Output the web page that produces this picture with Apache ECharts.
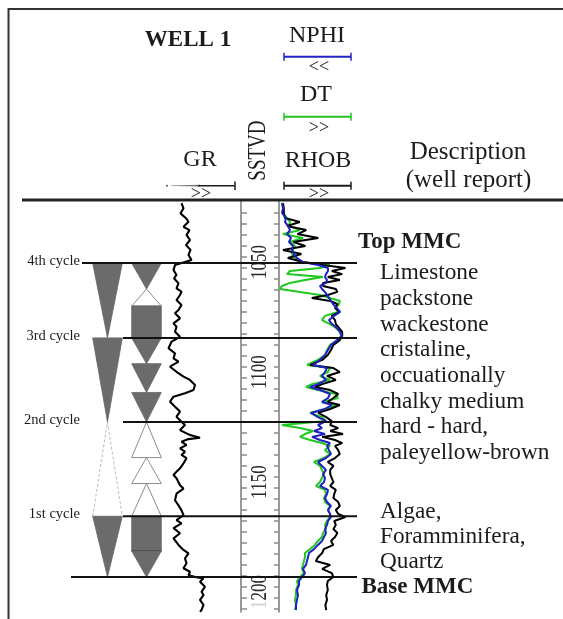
<!DOCTYPE html>
<html><head><meta charset="utf-8">
<script src="https://cdn.jsdelivr.net/npm/echarts@6/dist/echarts.min.js"></script>
<style>html,body{margin:0;padding:0;background:#fff;}#c{width:563px;height:619px;}</style>
</head><body><div id="c"></div>
<script>
// ---------------- DATA ----------------
const grDepth = [
 1023.3,1025.6,1027.9,1030.1,1031.7,1034.0,1035.5,1037.7,1040.0,1042.3,
 1044.5,1046.8,1049.1,1049.9,1051.4,1053.6,1055.9,1057.4,1059.7,1062.0,
 1063.5,1065.0,1067.3,1069.5,1071.8,1073.3,1075.6,1077.9,1079.4,1081.7,
 1084.0,1084.7,1086.2,1089.2,1091.5,1093.8,1095.3,1097.6,1099.9,1102.1,
 1103.6,1105.9,1108.2,1109.7,1111.2,1113.5,1115.8,1118.0,1120.3,1122.6,
 1123.3,1124.1,1126.4,1127.9,1128.6,1129.9,1130.5,1131.7,1133.2,1134.7,
 1136.2,1137.7,1139.2,1141.5,1143.8,1145.3,1146.8,1148.3,1151.5,1153.0,
 1155.3,1158.3,1160.6,1162.9,1165.1,1165.8,1167.3,1168.8,1171.0,1173.3,
 1175.6,1178.6,1180.9,1182.4,1184.7,1186.9,1189.2,1190.8,1192.3,1193.0,
 1193.8,1195.3,1197.6,1199.9,1201.4,1203.6,1205.9,1208.2,1209.0];
const grValue = [
 63,67,61,72,77,67,79,73,80,72,
 81,77,83,83,50,47,53,48,57,53,
 63,60,53,63,57,50,60,47,53,50,
 60,63,43,37,50,47,57,40,53,67,
 80,90,87,70,47,40,50,60,53,63,
 67,70,60,73,80,100,77,63,73,60,
 70,63,73,67,60,53,47,53,60,67,
 53,50,57,63,67,70,53,63,47,60,
 47,57,67,77,70,73,67,80,77,87,
 107,100,110,103,107,100,107,103,100];

const logDepth = [
 1023.2,1025.5,1027.7,1030.0,1031.8,1033.6,1035.5,1037.3,1039.1,1040.9,
 1042.7,1044.5,1046.4,1048.2,1050.0,1051.4,1052.7,1054.1,1055.5,1056.8,
 1058.2,1059.5,1060.9,1062.3,1063.6,1065.0,1066.4,1067.7,1069.1,1070.9,
 1072.7,1074.5,1076.4,1078.2,1080.0,1081.8,1083.6,1085.5,1087.7,1090.0,
 1092.3,1094.5,1096.8,1098.2,1100.0,1101.8,1103.6,1105.5,1106.8,1108.2,
 1110.0,1111.8,1113.6,1115.0,1116.8,1118.6,1120.5,1122.3,1124.1,1125.5,
 1126.8,1128.2,1129.5,1130.9,1132.3,1133.6,1135.5,1137.3,1139.1,1140.9,
 1142.7,1144.5,1146.4,1148.2,1150.0,1151.8,1153.6,1155.5,1157.3,1159.1,
 1160.9,1162.7,1164.5,1165.9,1167.7,1169.5,1171.4,1173.2,1175.0,1176.8,
 1178.6,1180.5,1182.3,1184.1,1185.9,1187.7,1189.5,1191.4,1193.2,1195.0,
 1196.8,1199.1,1201.4,1203.6,1205.9,1208.2];
const nphi = [
 0.335,0.33,0.335,0.315,0.32,0.305,0.295,0.31,0.29,0.30,
 0.28,0.285,0.275,0.26,0.23,0.155,0.105,0.105,0.115,0.12,
 0.11,0.115,0.145,0.135,0.12,0.11,0.10,0.09,0.08,0.06,
 0.045,0.075,0.10,0.085,0.06,0.045,0.035,0.06,0.09,0.105,
 0.12,0.145,0.18,0.11,0.12,0.135,0.115,0.155,0.195,0.145,
 0.095,0.105,0.135,0.085,0.12,0.19,0.155,0.115,0.155,0.135,
 0.175,0.12,0.185,0.145,0.095,0.11,0.10,0.09,0.115,0.155,
 0.135,0.115,0.13,0.12,0.125,0.145,0.105,0.11,0.12,0.11,
 0.09,0.105,0.095,0.09,0.105,0.11,0.12,0.115,0.125,0.135,
 0.155,0.175,0.20,0.205,0.21,0.215,0.23,0.22,0.235,0.25,
 0.25,0.26,0.255,0.26,0.265,0.265];
const dt = [
 136.3,135,135,130,126.3,127.5,113.8,135,110,126.3,
 120,122.5,123.8,120,113.8,76.3,88.8,126.3,130,85,
 107.5,126.3,136.3,138.8,113.8,88.8,76.3,63.8,65,68.8,
 66.3,82.5,86.3,76.3,68.8,63.8,62.5,66.3,76.3,80,
 82.5,91.3,105,76.3,78.8,88.8,76.3,98.8,106.3,91.3,
 68.8,66.3,86.3,66.3,82.5,101.3,86.3,81.3,136.3,113.8,
 97.5,107.5,113.8,101.3,86.3,76.3,82.5,76.3,83.8,96.3,
 88.8,86.3,83.8,86.3,88.8,93.8,82.5,81.3,83.8,82.5,
 76.3,78.8,76.3,76.3,80,82.5,81.3,85,86.3,91.3,
 95,101.3,107.5,107.5,108.8,110,111.3,108.8,113.8,117.5,
 116.3,118.8,118.8,120,118.8,120];
const rhob = [
 2.00,2.01,2.01,2.025,2.21,2.05,2.29,2.18,2.44,2.13,
 2.28,2.00,2.23,2.06,2.25,2.50,2.78,2.61,2.74,2.56,
 2.71,2.50,2.50,2.66,2.68,2.56,2.36,2.59,2.68,2.65,
 2.71,2.61,2.65,2.66,2.70,2.74,2.74,2.71,2.63,2.60,
 2.56,2.49,2.34,2.63,2.71,2.55,2.66,2.49,2.40,2.59,
 2.69,2.63,2.56,2.71,2.59,2.44,2.54,2.61,2.59,2.69,
 2.59,2.75,2.49,2.65,2.74,2.65,2.69,2.71,2.65,2.56,
 2.63,2.59,2.59,2.61,2.63,2.59,2.66,2.64,2.63,2.69,
 2.71,2.66,2.69,2.78,2.64,2.66,2.63,2.68,2.65,2.60,
 2.63,2.51,2.49,2.44,2.41,2.59,2.49,2.61,2.63,2.56,
 2.55,2.56,2.54,2.55,2.53,2.54];

const depthTickValues = [1027.5,1032.5,1037.5,1042.5,1047.5,1052.5,1057.5,1062.5,1067.5,1072.5,
 1077.5,1082.5,1087.5,1092.5,1097.5,1102.5,1107.5,1112.5,1117.5,1122.5,1127.5,1132.5,1137.5,
 1142.5,1147.5,1152.5,1157.5,1162.5,1167.5,1172.5,1177.5,1182.5,1187.5,1192.5,1197.5,1202.5,1207.5];
const depthLabelValues = [1050, 1100, 1150, 1200];

const cycleNames = ['4th cycle', '3rd cycle', '2nd cycle', '1st cycle', ''];
const boundaryDepths = [1050.5, 1084.5, 1122.7, 1165.6, 1193.2];
const formationNames = ['Top MMC', 'Base MMC'];
const formationDepths = [1050.5, 1193.2];

const shapeColumns = ['long', 'short'];
const shapeColumn = [0,0,0,0, 1,1,1,1,1,1,1,1,1,1,1];
const shapeTop    = [1050.5,1084.5,1122.7,1165.6, 1050.5,1062.3,1070.0,1084.5,1096.2,1109.3,1122.7,1138.9,1150.7,1165.6,1181.4];
const shapeBottom = [1084.5,1122.7,1165.6,1193.2, 1062.3,1070.0,1084.5,1096.2,1109.3,1122.7,1138.9,1150.7,1165.6,1181.4,1193.2];
const shapeKind   = ['down','down','up','down', 'down','up','rect','down','down','down','up','up','up','rect','down'];
const shapeFilled = [1,1,0,1, 1,0,1,1,1,1,0,0,0,1,1];

const descLithology = ['Limestone','packstone','wackestone','cristaline,','occuationally','chalky medium','hard - hard,','paleyellow-brown'];
const descFossils = ['Algae,','Foramminifera,','Quartz'];

// ---------------- LAYOUT / STYLE ----------------
const SERIF = "'Liberation Serif','Times New Roman',serif";
const INK = '#1c1c1c';
const DMIN = 1022, DMAX = 1209, TOP = 200.4, HEIGHT = 411.4;
const lineStartX = [82, 123, 123, 123, 71];
const LINE_END_X = 357;

function hiddenY(gridIndex) {
  return {type:'value', gridIndex, min:DMIN, max:DMAX, inverse:true, show:false};
}

const G = [];
function text(t, x, y, size, extra) {
  G.push(Object.assign({type:'text', x, y, z:100, style:Object.assign({text:t, fill:INK, fontSize:size, fontFamily:SERIF, align:'center', verticalAlign:'middle'}, (extra && extra.style) || {})}, extra ? {rotation: extra.rotation || 0, scaleY: extra.scaleY || 1} : {}));
}
function line(x1, y1, x2, y2, stroke, w) {
  G.push({type:'line', z:100, shape:{x1, y1, x2, y2}, style:{stroke, lineWidth:w}});
}
function scaleBar(x1, x2, y, color) {
  line(x1, y, x2, y, color, 2);
  line(x1, y - 4, x1, y + 4, color, 1.5);
  line(x2, y - 4, x2, y + 4, color, 1.5);
}
// frame
line(8, 9, 563, 9, '#333', 2);
line(8.5, 8, 8.5, 619, '#333', 2);
line(22, 200, 563, 200, '#222', 3);
// header
text('WELL 1', 188, 40, 23, {style:{fontWeight:'bold'}});
text('NPHI', 317, 36, 24);
scaleBar(284, 351, 56.7, '#2323c8');
text('<<', 319, 67, 18);
text('DT', 316, 95, 24);
scaleBar(284, 351, 116.7, '#22c322');
text('>>', 319, 128, 18);
text('SSTVD', 259, 150.6, 19, {rotation: Math.PI / 2, scaleY: 1.3});
text('GR', 200, 160, 24);
G.push({type:'circle', z:100, shape:{cx:167, cy:185.8, r:1}, style:{fill:'#555'}});
G.push({type:'polygon', z:100, shape:{points:[[171,185.5],[200,184.8],[200,186.6],[171,186.0]]}, style:{fill:'#777'}});
line(198, 185.7, 235, 185.7, INK, 1.6);
line(235, 181.5, 235, 190, INK, 1.5);
text('>>', 201, 194, 18);
text('RHOB', 318, 160.7, 24);
scaleBar(284, 351, 185.7, INK);
text('>>', 319, 194, 18);
text('Description', 468, 152, 25);
text('(well report)', 468.5, 180, 25);
// description body
G.push({type:'text', z:100, x:380, y:260.2, style:{text:descLithology.join('\n'), fill:INK, fontSize:23.3, fontFamily:SERIF, lineHeight:25.7, align:'left', verticalAlign:'top'}});
G.push({type:'text', z:100, x:380, y:499.2, style:{text:descFossils.join('\n'), fill:INK, fontSize:23.3, fontFamily:SERIF, lineHeight:25, align:'left', verticalAlign:'top'}});

// ---------------- CHART ----------------
const chart = echarts.init(document.getElementById('c'), null, {renderer:'canvas'});
const shapeData = shapeColumn.map((c, i) => [c, shapeTop[i], shapeBottom[i], i]);

const option = {
  animation: false,
  backgroundColor: '#fff',
  grid: [
    {left:150, top:TOP, width:80, height:HEIGHT},
    {left:241, top:TOP, width:38, height:HEIGHT},
    {left:279, top:TOP, width:80, height:HEIGHT},
    {left:88,  top:TOP, width:78, height:HEIGHT},
    {left:0,   top:TOP, width:563, height:HEIGHT}
  ],
  xAxis: [
    {type:'value', gridIndex:0, min:0, max:160, show:false},
    {type:'value', gridIndex:1, min:0, max:1, show:false},
    {type:'value', gridIndex:2, min:-0.05, max:0.35, inverse:true, show:false},
    {type:'value', gridIndex:2, min:40, max:140, inverse:true, show:false},
    {type:'value', gridIndex:2, min:1.95, max:2.95, show:false},
    {type:'category', gridIndex:3, data:shapeColumns, show:false},
    {type:'value', gridIndex:4, min:0, max:563, show:false}
  ],
  yAxis: [
    hiddenY(0),
    {type:'value', gridIndex:1, min:DMIN, max:DMAX, inverse:true, position:'left',
     axisLine:{show:true, onZero:false, lineStyle:{color:'#9a9a9a', width:2}},
     axisTick:{show:true, inside:true, length:6, customValues:depthTickValues, lineStyle:{color:'#8a8a8a', width:1.5}},
     axisLabel:{show:false}, splitLine:{show:false}},
    {type:'value', gridIndex:1, min:DMIN, max:DMAX, inverse:true, position:'right',
     axisLine:{show:true, onZero:false, lineStyle:{color:'#9a9a9a', width:2}},
     axisTick:{show:true, inside:true, length:5, customValues:depthTickValues, lineStyle:{color:'#8a8a8a', width:1.5}},
     axisLabel:{show:false}, splitLine:{show:false}},
    hiddenY(2),
    hiddenY(3),
    hiddenY(4)
  ],
  series: [
    {name:'GR', type:'line', xAxisIndex:0, yAxisIndex:0, data:grDepth.map((d, i) => [grValue[i], d]),
     showSymbol:false, lineStyle:{color:'#000', width:2.1}, z:3},
    {name:'DT', type:'line', xAxisIndex:3, yAxisIndex:3, data:logDepth.map((d, i) => [dt[i], d]),
     showSymbol:false, lineStyle:{color:'#1ec81e', width:2}, z:3},
    {name:'RHOB', type:'line', xAxisIndex:4, yAxisIndex:3, data:logDepth.map((d, i) => [rhob[i], d]),
     showSymbol:false, lineStyle:{color:'#000', width:2}, z:4},
    {name:'NPHI', type:'line', xAxisIndex:2, yAxisIndex:3, data:logDepth.map((d, i) => [nphi[i], d]),
     showSymbol:false, lineStyle:{color:'#1f1fc4', width:2}, z:5},
    {name:'depthLabels', type:'custom', xAxisIndex:1, yAxisIndex:1, clip:false, silent:true, z:6,
     data:depthLabelValues.map(v => [0.5, v]), encode:{x:0, y:1},
     renderItem: function (params, api) {
       const v = api.value(1);
       const p = api.coord([0.5, v]);
       const s = String(v);
       const t = v === 1200 ? '{f|1}' + s.slice(1) : s;
       return {type:'text', x:p[0], y:p[1], rotation:Math.PI / 2, scaleY:1.3,
         style:{text:t, fill:'#2a2a2a', fontSize:17, fontFamily:SERIF, align:'center', verticalAlign:'middle',
                rich:{f:{fill:'#cfcfcf', fontSize:17, fontFamily:SERIF}}}};
     }},
    {name:'cycles', type:'custom', xAxisIndex:5, yAxisIndex:4, clip:false, silent:true, z:2,
     data:shapeData, encode:{x:0, y:[1, 2]},
     renderItem: function (params, api) {
       const i = api.value(3);
       const c = api.value(0);
       const p1 = api.coord([c, api.value(1)]);
       const p2 = api.coord([c, api.value(2)]);
       const half = api.size([1, 0])[0] * 0.38;
       const x = p1[0];
       const filled = shapeFilled[i] === 1;
       const style = filled
         ? {fill:'#6b6b6b', stroke:'#666', lineWidth:0.8}
         : {fill:'#fff', stroke: c === 0 ? '#b5b5b5' : '#8c8c8c', lineWidth: c === 0 ? 0.9 : 1, lineDash: c === 0 ? [3, 2] : null};
       const k = shapeKind[i];
       if (k === 'rect') {
         return {type:'group', children:[
           {type:'rect', shape:{x:x - half, y:p1[1], width:half * 2, height:p2[1] - p1[1]}, style},
           {type:'line', shape:{x1:x - half, y1:p2[1], x2:x + half, y2:p2[1]}, style:{stroke:'#2a2a2a', lineWidth:1.3}}
         ]};
       }
       const pts = k === 'down'
         ? [[x - half, p1[1]], [x + half, p1[1]], [x, p2[1]]]
         : [[x, p1[1]], [x + half, p2[1]], [x - half, p2[1]]];
       return {type:'polygon', shape:{points:pts}, style};
     }},
    {name:'boundaries', type:'custom', xAxisIndex:6, yAxisIndex:5, clip:false, silent:true, z:8,
     data:boundaryDepths.map((d, i) => [0, d, i]), encode:{x:0, y:1},
     renderItem: function (params, api) {
       const i = api.value(2);
       const y = api.coord([0, api.value(1)])[1];
       const children = [{type:'line', shape:{x1:lineStartX[i], y1:y, x2:LINE_END_X, y2:y}, style:{stroke:'#111', lineWidth:2}}];
       if (cycleNames[i]) {
         children.push({type:'text', x:80, y:y - 2, style:{text:cycleNames[i], fill:INK, fontSize:14.5, fontFamily:SERIF, align:'right', verticalAlign:'middle'}});
       }
       return {type:'group', children};
     }},
    {name:'formations', type:'custom', xAxisIndex:6, yAxisIndex:5, clip:false, silent:true, z:8,
     data:formationDepths.map((d, i) => [0, d, i]), encode:{x:0, y:1},
     renderItem: function (params, api) {
       const i = api.value(2);
       const y = api.coord([0, api.value(1)])[1];
       return {type:'text', x: i === 0 ? 358 : 361.5, y: i === 0 ? y - 21 : y + 10,
         style:{text:formationNames[i], fill:INK, fontSize:23, fontWeight:'bold', fontFamily:SERIF, align:'left', verticalAlign:'middle'}};
     }}
  ],
  graphic: {elements: G}
};
chart.setOption(option);
</script>
</body></html>
